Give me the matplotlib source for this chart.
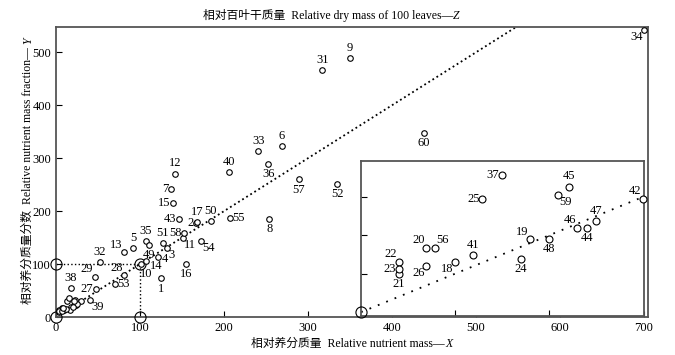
import matplotlib.pyplot as plt
from matplotlib.transforms import IdentityTransform, blended_transform_factory

plt.rcParams['font.family'] = ['Liberation Serif', 'Noto Sans CJK SC']

# points in the main panel
main_ids = [1, 2, 3, 4, 5, 6, 7, 8, 9, 10, 11, 12, 13, 14, 15, 16, 17,
            27, 28, 29, 31, 32, 33, 34, 35, 36, 38, 39, 40, 43, 49, 50,
            51, 52, 53, 54, 55, 57, 58, 60]
main_x = [125, 167, 132, 121, 92, 269, 137, 254, 350, 101, 151, 142, 81, 107, 139, 155, 168,
          48, 81, 46, 317, 52, 241, 700, 107, 253, 17.5, 41, 206, 146, 111, 184,
          127, 335, 70, 173, 207, 289, 153, 438]
main_y = [73, 178, 131, 114, 130, 323, 241, 185, 490, 101, 150, 271, 123, 105, 216, 101, 180,
          53, 79, 76, 467, 104, 313, 543, 143, 290, 55, 33, 274, 185, 137, 182,
          139, 252, 62, 144, 188, 260, 158, 348]

# points crowded near the origin, shown again magnified in the inset
near_ids = [18, 19, 20, 21, 22, 23, 24, 25, 26, 37, 41, 42, 44, 45, 46, 47, 48, 56, 59]
near_x = [10.0, 18.0, 6.9, 4.0, 4.0, 4.0, 17.0, 12.9, 6.9, 15.0, 11.9, 30.0, 24.0, 22.1, 23.0,
          25.0, 20.0, 7.9, 20.9]
near_y = [13.1, 19.0, 16.8, 9.9, 13.1, 11.2, 13.8, 29.5, 12.0, 35.7, 14.8, 29.5, 22.0, 32.7,
          22.0, 23.7, 19.0, 16.8, 30.6]

ref_value = 100

# where each number sits around its circle
label_side = {1: 'b', 2: 'l', 3: 'br', 4: (3, -2, 'left', 'center'), 5: 'a', 6: 'a', 7: 'l',
              8: 'b', 9: 'a', 10: (4, -3, 'center', 'top'), 11: 'br', 12: 'a', 13: 'al',
              14: (3, -3, 'left', 'center'), 15: 'l', 16: 'b', 17: 'a',
              27: 'l', 28: 'al', 29: 'al', 31: 'a', 32: 'a', 33: 'a', 34: 'bl', 35: 'a',
              36: 'b', 38: 'a', 39: 'br', 40: 'a', 43: 'l', 49: 'b', 50: 'a', 51: 'a',
              52: 'b', 53: 'r', 54: 'br', 55: 'r', 57: 'b', 58: 'l', 60: 'b',
              18: 'bl', 19: 'al', 20: 'al', 21: 'b', 22: 'al', 23: 'l', 24: 'b', 25: 'l',
              26: 'bl', 37: 'l', 41: 'a', 42: 'al', 44: 'b', 45: 'a', 46: 'al', 47: 'a',
              48: 'b', 56: 'ar', 59: 'br'}
offsets = {'a': (0, 3, 'center', 'bottom'), 'b': (0, -3, 'center', 'top'),
           'l': (-2, 0, 'right', 'center'), 'r': (2, 0, 'left', 'center'),
           'al': (-1, 1, 'right', 'bottom'), 'ar': (1, 1, 'left', 'bottom'),
           'bl': (-1, -1, 'right', 'top'), 'br': (1, -1, 'left', 'top')}

grey = '#555555'


def label_points(ax, ids, xs, ys):
    for i, x, y in zip(ids, xs, ys):
        side = label_side[i]
        dx, dy, ha, va = offsets[side] if isinstance(side, str) else side
        ax.annotate(str(i), (x, y), xytext=(dx, dy), textcoords='offset points',
                    ha=ha, va=va, fontsize=9)


def frame(ax):
    for s in ax.spines.values():
        s.set_color(grey)
        s.set_linewidth(1.3)


def axis_title(fig, x, y, text, letter, rotation=0):
    # chinese + english part, then the italic variable letter after it
    t = fig.text(x, y, text, ha='center', va='baseline', rotation=rotation,
                 rotation_mode='anchor', fontsize=8.5)
    fig.canvas.draw()
    bb = t.get_window_extent()
    if rotation == 90:
        tr = blended_transform_factory(fig.transFigure, IdentityTransform())
        fig.text(x, bb.y1, letter, transform=tr, ha='left', va='baseline', rotation=90,
                 rotation_mode='anchor', fontsize=8.5, style='italic')
    else:
        tr = blended_transform_factory(IdentityTransform(), fig.transFigure)
        fig.text(bb.x1, y, letter, transform=tr, ha='left', va='baseline',
                 fontsize=8.5, style='italic')


fig = plt.figure(figsize=(6.75, 3.55), dpi=100)
ax = fig.add_axes([0.083, 0.107, 0.877, 0.817])

ax.axline((0, 0), slope=1, color='k', ls=':', lw=1.3)
ax.plot([0, ref_value], [ref_value, ref_value], color='k', ls=':', lw=1)
ax.plot([ref_value, ref_value], [0, ref_value], color='k', ls=':', lw=1)
ax.plot([0, 0, ref_value, ref_value], [0, ref_value, 0, ref_value], 'o', ms=8,
        mfc='none', mec='k', mew=0.8, clip_on=False, zorder=4)

ax.plot(main_x, main_y, 'o', ms=4, mfc='white', mec='k', mew=0.8, clip_on=False, zorder=5)
ax.plot(near_x, near_y, 'o', ms=4, mfc='white', mec='k', mew=0.8, zorder=5)
label_points(ax, main_ids, main_x, main_y)

ax.set_xlim(0, 705)
ax.set_ylim(0, 548)
ax.set_xticks(range(0, 701, 100))
ax.set_yticks(range(0, 501, 100))
ax.tick_params(direction='in', length=4, labelsize=9, colors='k')
frame(ax)

# magnified view of the crowded corner
ins = fig.add_axes([0.535, 0.110, 0.419, 0.437])
ins.axline((0, 0), slope=1, color='k', ls=(0, (1, 4)), lw=1.3)
ins.plot([0], [0], 'o', ms=8, mfc='none', mec='k', mew=0.8, clip_on=False, zorder=4)
ins.plot(near_x, near_y, 'o', ms=5, mfc='white', mec='k', mew=0.8, clip_on=False, zorder=5)
label_points(ins, near_ids, near_x, near_y)
ins.set_xlim(0, 30.1)
ins.set_ylim(-1.0, 39.4)
ins.set_xticks([10, 20])
ins.set_yticks([10, 20, 30])
ins.tick_params(direction='in', length=4, labelbottom=False, labelleft=False)
frame(ins)

axis_title(fig, 0.486, 0.946, '相对百叶干质量  Relative dry mass of 100 leaves—', 'Z')
axis_title(fig, 0.516, 0.022, '相对养分质量  Relative nutrient mass—', 'X')
axis_title(fig, 0.046, 0.51, '相对养分质量分数  Relative nutrient mass fraction— ', 'Y', rotation=90)

fig.savefig('out.png', dpi=100)
